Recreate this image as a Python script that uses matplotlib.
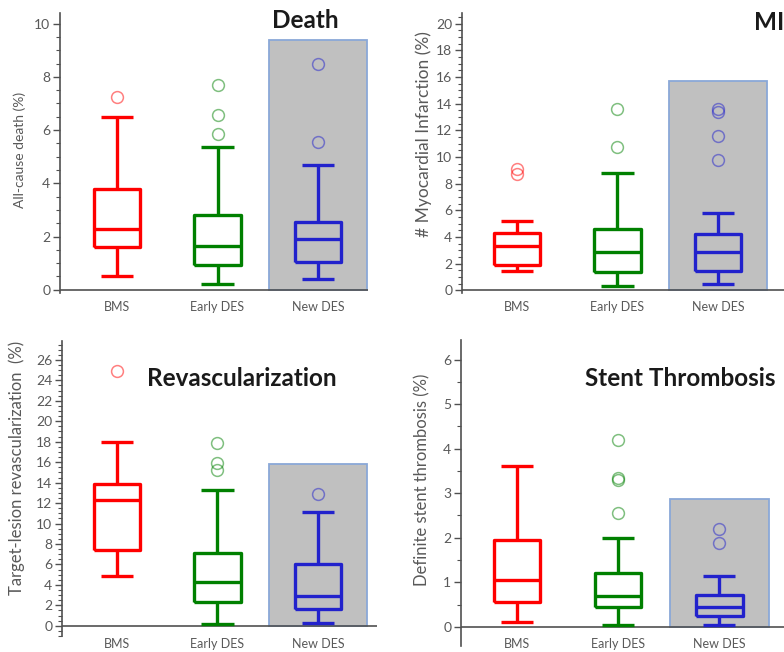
import matplotlib
matplotlib.use("Agg")
import matplotlib.pyplot as plt
from matplotlib.patches import Rectangle
from matplotlib.ticker import MultipleLocator

plt.rcParams["font.family"] = ["Lato", "DejaVu Sans"]

groups = ["BMS", "Early DES", "New DES"]
colors = ["#ff0000", "#008000", "#2222cc"]

# five-number summaries per stent: whisker low, Q1, median, Q3, whisker high
death_box = [[0.5, 1.6, 2.3, 3.8, 6.5], [0.2, 0.95, 1.65, 2.8, 5.35], [0.4, 1.05, 1.9, 2.55, 4.7]]
death_out = [[7.25], [5.85, 6.55, 7.7], [5.55, 8.5]]

mi_box = [[1.45, 1.9, 3.3, 4.3, 5.2], [0.3, 1.4, 2.85, 4.6, 8.8], [0.45, 1.45, 2.9, 4.2, 5.8]]
mi_out = [[8.7, 9.1], [10.75, 13.6], [9.8, 11.6, 13.4, 13.6]]

revasc_box = [[4.9, 7.4, 12.3, 13.9, 18.0], [0.2, 2.3, 4.3, 7.1, 13.3], [0.3, 1.6, 2.9, 6.0, 11.1]]
revasc_out = [[24.9], [15.2, 15.9, 17.9], [12.9]]

st_box = [[0.1, 0.55, 1.05, 1.95, 3.6], [0.05, 0.45, 0.7, 1.2, 2.0], [0.05, 0.25, 0.45, 0.72, 1.15]]
st_out = [[], [2.55, 3.3, 3.35, 4.2], [1.88, 2.2]]

# top of the grey "New DES" highlight in each panel
highlight_top = [9.4, 15.7, 15.8, 2.88]

W, H = 784, 652
fig = plt.figure(figsize=(W / 100, H / 100), dpi=100)

axis_col = "#505050"
text_col = "#595959"


def draw_panel(px, xlim, ylim, major, minor, box, out, hl, title, title_px, title_ha,
               ylabel, ylabel_px, ylabel_size, xpad_px):
    left, right, top, bottom = px
    ax = fig.add_axes([left / W, 1 - bottom / H, (right - left) / W, (bottom - top) / H])
    ax.set_xlim(*xlim)
    ax.set_ylim(*ylim)
    ax.patch.set_alpha(0)

    ax.add_patch(Rectangle((2.51, 0), 0.98, hl, facecolor="#c0c0c0",
                           edgecolor="#8aa8d8", lw=1.3, zorder=0))

    for i, (s, o, c) in enumerate(zip(box, out, colors)):
        stats = [dict(whislo=s[0], q1=s[1], med=s[2], q3=s[3], whishi=s[4], fliers=o)]
        lp = dict(color=c, lw=2.4, solid_capstyle="butt")
        ax.bxp(stats, positions=[i + 1], widths=0.46, capwidths=0.32,
               boxprops=lp, whiskerprops=lp, capprops=lp, medianprops=lp,
               flierprops=dict(marker="o", mfc="none", mec=c, mew=1.1, ms=8.5, alpha=0.5),
               manage_ticks=False, zorder=3)

    for sp in ["top", "right", "bottom"]:
        ax.spines[sp].set_visible(False)
    ax.spines["left"].set_color(axis_col)
    ax.spines["left"].set_linewidth(1.2)
    ax.axhline(0, color=axis_col, lw=1.2, zorder=2)

    ax.yaxis.set_major_locator(MultipleLocator(major))
    ax.yaxis.set_minor_locator(MultipleLocator(minor))
    ax.set_yticks([t for t in ax.get_yticks() if 0 <= t <= ylim[1]])
    ax.tick_params(axis="y", which="major", direction="out", length=5, width=1,
                   color=axis_col, labelsize=10, labelcolor=text_col, pad=2)
    ax.tick_params(axis="y", which="minor", direction="out", length=3, width=0.8,
                   color=axis_col)
    ax.set_xticks([1, 2, 3], groups)
    ax.tick_params(axis="x", length=0, labelsize=9, labelcolor=text_col, pad=xpad_px * 0.72)

    fig.text(title_px[0] / W, 1 - title_px[1] / H, title, fontsize=17.5, fontweight="bold",
             color="#1a1a1a", ha=title_ha, va="center")
    fig.text(ylabel_px[0] / W, 1 - ylabel_px[1] / H, ylabel, rotation=90,
             fontsize=ylabel_size, color=text_col, ha="center", va="center")
    return ax


draw_panel((60, 368, 13, 293), (0.433, 3.497), (-0.12, 10.4), 2, 0.5,
           death_box, death_out, highlight_top[0], "Death", (305, 21), "center",
           "All-cause death (%)", (20, 150), 10, 8)
draw_panel((462, 784, 13, 293), (0.453, 3.657), (-0.2, 20.8), 2, 0.5,
           mi_box, mi_out, highlight_top[1], "MI", (754, 22), "left",
           "# Myocardial Infarction (%)", (424, 134), 12.5, 8)
draw_panel((62, 377, 341, 636), (0.453, 3.587), (-1.0, 27.85), 2, 0.5,
           revasc_box, revasc_out, highlight_top[2], "Revascularization", (242, 379), "center",
           "Target-lesion revascularization  (%)", (17, 468), 12, 2)
draw_panel((461, 784, 340, 646), (0.446, 3.64), (-0.43, 6.44), 1, 0.5,
           st_box, st_out, highlight_top[3], "Stent Thrombosis", (680, 378), "center",
           "Definite stent thrombosis (%)", (422, 480), 12, -8)

fig.savefig("out.png", dpi=100, facecolor="white")
